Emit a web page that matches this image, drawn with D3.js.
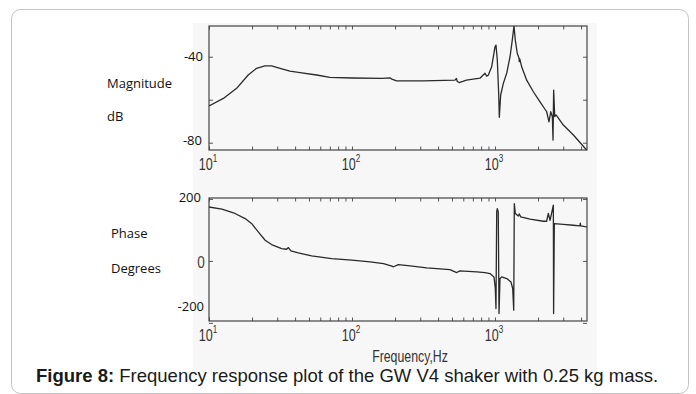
<!DOCTYPE html>
<html><head><meta charset="utf-8">
<script src="https://cdn.jsdelivr.net/npm/d3@7"></script>
<style>html,body{margin:0;padding:0;background:#fff;}svg{display:block;}</style>
</head><body>
<svg id="chart" width="696" height="394"></svg>
<script>
// ---------- data ----------
const magFreq = [10,12.6,15.6,18.8,21.5,24.6,27.4,31.4,36.8,43.3,56.6,70,100,162,184,190,205,314,525,537,545,562,631,785,851,874,897,948,1000,1016,1038,1061,1072,1096,1144,1207,1274,1321,1358,1387,1432,1470,1479,1490,1537,1666,1855,2065,2298,2386,2453,2518,2546,2572,2616,2673,3006,3534,4266,4400];
const magDb   = [-62.9,-59.4,-54.7,-48.5,-45.4,-44.3,-44.3,-45.4,-46.7,-47.4,-48.5,-49.6,-49.9,-50.1,-49.8,-50.4,-51.2,-51.2,-50.9,-50.1,-51.5,-52,-50.9,-50.0,-47.7,-49.0,-48.6,-44.7,-35.4,-34.6,-41.5,-57,-68.2,-57.8,-52.4,-47.7,-40,-32.3,-25.6,-32.3,-38.5,-40.5,-42.3,-41,-44.7,-50.9,-56.3,-61,-65.6,-70.3,-65.6,-67.9,-78.8,-55.5,-67.9,-67.1,-71.8,-76.4,-82.6,-83.4];
const phaseFreq = [10,12.3,15.2,17.9,19.9,22.1,24.7,27.4,32.2,34.9,35.9,37.4,42.1,52.2,72.1,99.5,134,166,190,195,211,255,333,484,540,569,745,851,922,984,1005,1016,1028,1038,1054,1067,1084,1114,1208,1294,1330,1352,1365,1387,1455,1479,1514,1758,2178,2296,2360,2427,2559,2570,2600,3006,3532,3926,3950,3980,4256,4400];
const phaseDeg  = [174,167,153,136.5,120,93.5,66.7,52.7,39.8,37.6,43,32,25.8,16,7.5,2.2,-3.2,-8.6,-17,-19,-11.8,-16,-22.6,-28,-37.6,-32,-35.5,-38,-41,-51.6,-89,-154,158,169,158,-170,-57,-51.6,-57,-68,-89,-159,185,153,145,151.6,142,134.5,128,128,153,131,180,-170,120,118,115,113,122,113,110.6,110];
const decades = [10,100,1000];
const decadeExp = ["1","2","3"];
const minorTicks = [10,20,30,40,50,60,70,80,90,100,200,300,400,500,600,700,800,900,1000,2000,3000,4000];
const magTicks = [-80,-60,-40];
const magTickLabels = ["-40","-80"];
const phaseTicks = [-200,0,200];
const phaseTickLabels = ["200","0","-200"];
const magTitle = ["Magnitude","dB"];
const phaseTitle = ["Phase","Degrees"];
const xTitle = "Frequency,Hz";
const captionBold = "Figure 8:";
const captionRest = " Frequency response plot of the GW V4 shaker with 0.25 kg mass.";

// ---------- layout ----------
const svg = d3.select("#chart");
const L = 209, R = 587;
const top1 = 26, bot1 = 150, top2 = 198, bot2 = 321;
const x = d3.scaleLog().domain([10,4400]).range([L,R]);
const yM = d3.scaleLinear().domain([-83.4,-25.7]).range([bot1,top1]);
const yP = d3.scaleLinear().domain([-194,203]).range([bot2,top2]);

// outer card
svg.append("rect").attr("x",11.5).attr("y",9.5).attr("width",677).attr("height",384)
  .attr("rx",9).attr("fill","#fff").attr("stroke","#c4c4c4").attr("stroke-width",1);
// scanned picture background
svg.append("rect").attr("x",193).attr("y",23).attr("width",404).attr("height",350).attr("fill","#f7f7f7");

const lineCol = "#2a2a2a";
function panel(y, top, bot, yTicks, vals, freqs, id){
  const g = svg.append("g");
  g.append("clipPath").attr("id",id).append("rect").attr("x",L).attr("y",top).attr("width",R-L).attr("height",bot-top);
  const axB = d3.axisBottom(x).tickValues(minorTicks).tickSizeInner(-3.5).tickSizeOuter(0).tickFormat("");
  const axT = d3.axisTop(x).tickValues(minorTicks).tickSizeInner(-3.5).tickSizeOuter(0).tickFormat("");
  const axL = d3.axisLeft(y).tickValues(yTicks).tickSizeInner(-4).tickSizeOuter(0).tickFormat("");
  const axR = d3.axisRight(y).tickValues(yTicks).tickSizeInner(-4).tickSizeOuter(0).tickFormat("");
  [[axB,`translate(0,${bot})`],[axT,`translate(0,${top})`],[axL,`translate(${L},0)`],[axR,`translate(${R},0)`]].forEach(([a,t])=>{
    const ga = g.append("g").attr("transform",t).call(a);
    ga.select(".domain").remove();
    ga.selectAll("line").attr("stroke","#555").attr("stroke-width",1);
  });
  g.append("rect").attr("x",L).attr("y",top).attr("width",R-L).attr("height",bot-top)
    .attr("fill","none").attr("stroke","#444").attr("stroke-width",1.2);
  const line = d3.line().x((d,i)=>x(freqs[i])).y(d=>y(d));
  g.append("path").attr("d",line(vals)).attr("clip-path",`url(#${id})`)
    .attr("fill","none").attr("stroke",lineCol).attr("stroke-width",1.3).attr("stroke-linejoin","round");
  // decade labels
  decades.forEach((d,i)=>{
    const t = g.append("g").attr("transform",`translate(${x(d)-1},${bot+19.5}) scale(0.74,1)`)
      .append("text").attr("text-anchor","middle").attr("font-family","'Liberation Sans',Arial,sans-serif")
      .attr("font-size",17).attr("fill","#333");
    t.append("tspan").text("10");
    t.append("tspan").attr("font-size",11).attr("dy",-7.5).text(decadeExp[i]);
  });
}
panel(yM, top1, bot1, magTicks, magDb, magFreq, "c1");
panel(yP, top2, bot2, phaseTicks, phaseDeg, phaseFreq, "c2");

const lab = (txt, xx, yy, anchor) => svg.append("text").attr("x",xx).attr("y",yy).attr("dy","0.35em")
  .attr("text-anchor",anchor||"start").attr("font-family","'Open Sans',sans-serif").attr("font-size",13).attr("fill","#111").text(txt);

// magnitude overlay labels
lab(magTitle[0],107,83);
lab(magTitle[1],107,116);
lab(magTickLabels[0],203,yM(-40),"end");
lab(magTickLabels[1],202,yM(-80)-2,"end");
// phase overlay labels
lab(phaseTitle[0],111,233);
lab(phaseTitle[1],111,268);
lab(phaseTickLabels[0],201,yP(200)-1.5,"end");
svg.append("g").attr("transform",`translate(201,${yP(0)+7.5}) scale(0.8,1)`).append("text")
  .attr("text-anchor","middle").attr("font-family","'Liberation Sans',Arial,sans-serif").attr("font-size",17).attr("fill","#444").text(phaseTickLabels[1]);
lab(phaseTickLabels[2],204,yP(-200)-16,"end");

// x title
svg.append("g").attr("transform",`translate(410,362) scale(0.77,1)`).append("text")
  .attr("text-anchor","middle").attr("font-family","'Liberation Sans',Arial,sans-serif").attr("font-size",16).attr("fill","#333").text(xTitle);

// caption
const cap = svg.append("text").attr("x",36).attr("y",382).attr("font-family","'Liberation Sans',Arial,sans-serif")
  .attr("font-size",18.5).attr("fill","#1a1a1a");
cap.append("tspan").attr("font-weight","bold").text(captionBold);
cap.append("tspan").text(captionRest);
</script>
</body></html>
